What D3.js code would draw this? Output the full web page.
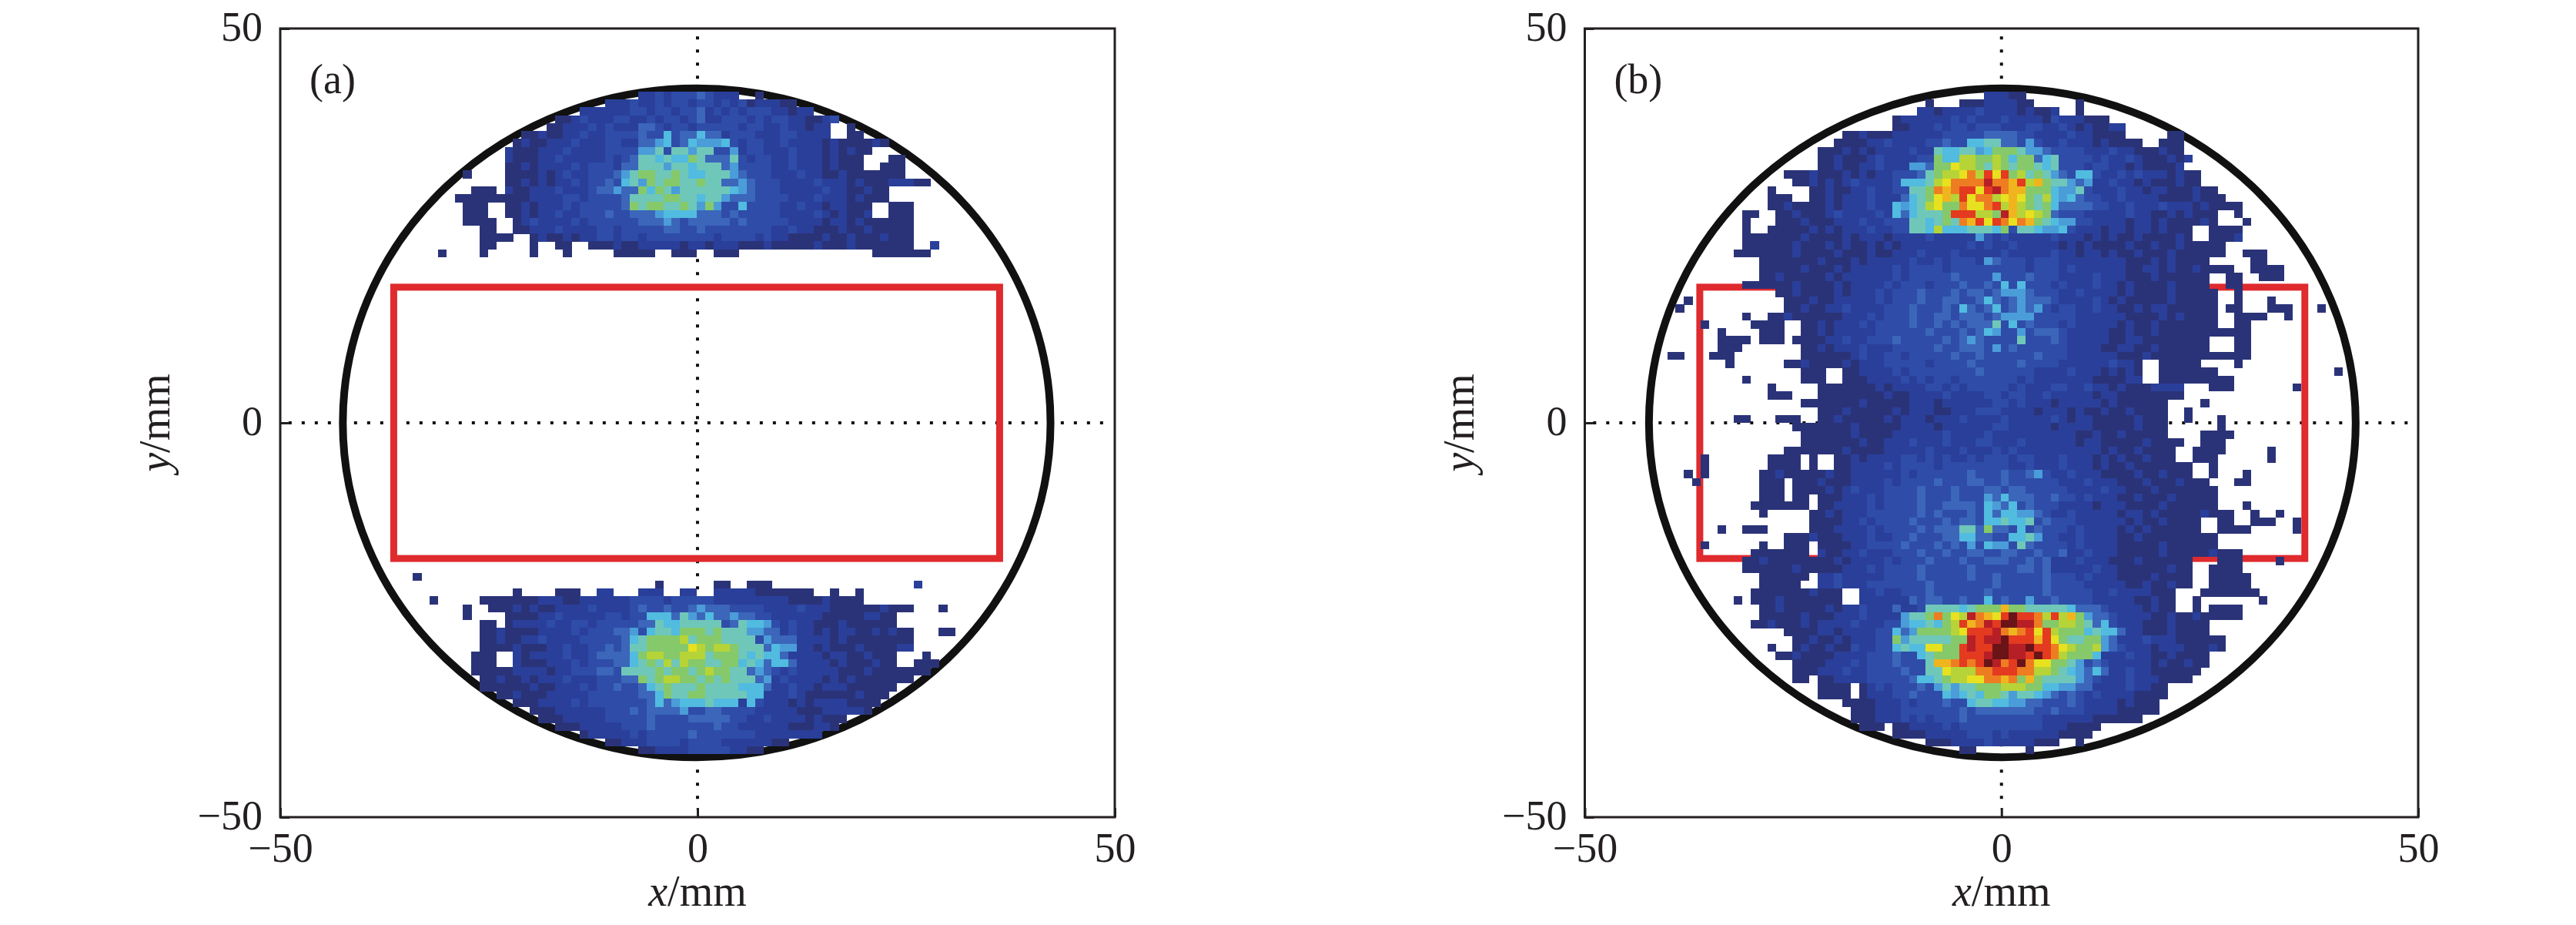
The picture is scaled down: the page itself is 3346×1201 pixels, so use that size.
<!DOCTYPE html>
<html><head><meta charset="utf-8">
<script src="https://d3js.org/d3.v7.min.js"></script>
<style>html,body{margin:0;padding:0;background:#fff}svg{display:block}</style>
</head><body><svg id="c" width="3346" height="1201"></svg>
<script>
// Rows: [top edge of row in mm, first column in mm, level per 1 mm cell]. 1..f = hex level.
const panelABase = [
[42,-7,"22323 33432 22"],[42,7,"1"],
[41,-11,"22232 23233 23323 23122 211"],
[40,-14,"22222 23323 32334 23232 33322 122"],
[39,-17,"11232 22332 23233 23422 33323 23322 1123"],
[38,-18,"11222 32322 23432 33233 33323 32232 2122"],[38,18,"1"],
[37,-21,"11211 22322 33232 23334 44332 33322 23322 22"],[37,18,"11"],
[36,-22,"12112 22322 23322 33433 33332 33233 22322 22121 11121"],
[35,-23,"21112 22322 22332 33322 34333 33323 32223 22212 1211"],
[34,-23,"21112 23222 22323 33433 33333 33332 33223 22212 111"],[34,23,"11"],
[33,-23,"11212 22232 33323 33343 33333 33433 33223 22212 111"],[33,22,"111"],
[32,-28,"1"],[32,-23,"11112 12322 33332 33343 33333 33233 33222 32211 21111 111"],
[31,-23,"11212 12232 33333 34333 33333 33343 33322 22322 21211 12221 1"],
[30,-27,"111"],[30,-23,"21122 23222 33233 33343 33333 33334 33322 22232 21121 1"],
[29,-29,"111111"],[29,-23,"11122 22332 33343 33333 33333 33333 33332 22322 21211 1"],
[28,-28,"111"],[28,-23,"11212 22323 33334 33333 33333 33343 33322 32212 2111"],[28,23,"111"],
[27,-28,"111"],[27,-23,"11212 23223 33433 33333 33333 33333 33322 22321 2112"],[27,23,"111"],
[26,-28,"1111"],[26,-22,"12322 22323 33333 34333 33333 33433 33322 22122 12111 111"],
[25,-26,"11"],[25,-22,"11222 32222 33233 33343 33333 33333 32232 21112 11211 111"],
[24,-26,"1111"],[24,-20,"12112 12233 23323 33333 33233 33232 21111 21121 11211 1"],
[23,-26,"11"],[23,-20,"1"],[23,-17,"11"],[23,-13,"11121 12222 21221 22211 12111 11211 12111 1111"],[23,28,"2"],
[22,-31,"1"],[22,-26,"1"],[22,-20,"1"],[22,-16,"1"],[22,-10,"11111"],[22,-3,"111"],[22,2,"111"],[22,21,"1111111"],
[-19,-34,"1"],
[-20,-5,"1"],[-20,2,"11"],[-20,6,"111"],[-20,26,"2"],
[-21,-22,"1"],[-21,-17,"111"],[-21,-12,"22"],[-21,-7,"222"],[-21,-2,"22"],[-21,2,"22222 11111 11"],[-21,16,"1"],[-21,19,"1"],
[-22,-32,"1"],[-22,-26,"11111 11222 11222 22233 33233 33322 22222 22111 12111 1"],
[-23,-28,"1"],[-23,-25,"11121 21122 22322 22333 33433 33333 33322 22322 21111 11211 1"],[-23,29,"1"],
[-24,-28,"1"],[-24,-23,"11112 23222 22332 33433 33333 33343 33222 22211 11122 11"],
[-25,-26,"11"],[-25,-23,"12222 32233 23333 33433 33333 33332 22323 22111 21111 11"],
[-26,-26,"11211 11222 23233 34333 33333 33433 33332 22322 12122 11212 11"],[-26,29,"11"],
[-27,-26,"11211 22322 22333 33433 33333 33343 33332 22322 22121 11111 11"],
[-28,-26,"11112 11122 32233 43333 33333 33333 33433 23222 12111 21111 22"],
[-29,-27,"111"],[-29,-22,"21222 23223 33334 33333 33333 33343 33222 22122 11211 1"],[-29,27,"1"],
[-30,-27,"111"],[-30,-22,"21112 22323 33334 33333 33333 33333 32322 22212 11121 1"],[-30,26,"111"],
[-31,-27,"11111 22221 22333 44333 33333 33333 33343 32232 22221 11211 11111"],
[-32,-26,"11211 21222 32223 33433 33333 33333 33322 23222 21212 11111 11"],
[-33,-26,"11111 12112 22323 33333 34333 33333 33222 22322 12221 11111"],
[-34,-24,"11211 12222 23333 33433 33333 33343 22222 32111 11121 11"],
[-35,-22,"11122 22323 33333 34333 33333 33322 22212 12222 1111"],
[-36,-20,"11122 22223 33433 33333 33333 33222 22111 22222 1"],
[-37,-19,"11122 22233 33343 33333 33333 22322 22121 11"],
[-38,-17,"11122 22233 34333 33334 33222 22211 1221"],
[-39,-14,"12222 23233 33343 33333 32222 2222"],
[-40,-11,"11222 33332 33332 22222 11"],
[-41,-7,"11222 23333 32211"]
];
const panelAHot = [
[38,-7,"44"],
[37,-10,"33343 36344 644"],
[36,-7,"44563 46555 63"],
[35,-9,"33557 37757 7335"],
[34,-8,"47767 66874 447"],
[33,-9,"44777 57767 7745"],
[32,-10,"45788 77876 67775 4"],
[31,-11,"43675 87887 78774 454"],
[30,-12,"44544 86875 77777 7654"],
[29,-10,"34777 78877 67754 44"],
[28,-10,"34878 87787 58533 6"],
[27,-9,"34445 66664 4434"],
[26,-7,"44454 34444 4"],
[25,-5,"34433 4"],
[-23,-7,"43343 34544 4"],
[-24,-6,"66647 54644 544"],
[-25,-8,"34476 67777 73476 65"],
[-26,-9,"45367 76888 78777 5544"],
[-27,-9,"46788 88978 88777 73544 4"],
[-28,-10,"34778 8888a 98998 77746 55"],
[-29,-12,"44446 89988 99978 88767 664"],
[-30,-10,"44678 79798 87788 67646 64"],
[-31,-9,"77778 78878 98877 4543"],
[-32,-8,"48789 98878 78777 45"],
[-33,-10,"43346 78777 87777 6664"],
[-34,-6,"46877 88777 7766"],
[-35,-6,"46456 66766 6263"],
[-36,-6,"44445 33443 3"],
[-37,-1,"44444"]
];
const panelBBase = [
[42,-2,"22211"],
[41,-9,"1"],[41,-5,"11122 2211"],[41,9,"1"],
[40,-10,"22122 22322 22121 12"],[40,9,"1"],
[39,-13,"12222 22323 22232 22213 22211 1"],
[38,-13,"11222 32332 33322 23322 32121 122"],
[37,-19,"11211 12222 22333 33444 43322 22322 1111"],[37,20,"11"],
[36,-20,"11112 23222 23343 33343 33333 22322 21211 11"],[36,19,"111"],
[35,-22,"11121 21222 23223 33343 33333 33433 33222 32211 1211"],
[34,-22,"11211 12322 22333 33433 33343 33333 33323 22321 11212"],
[33,-22,"11211 22322 23433 33333 33333 33343 33233 22121 1112"],
[32,-26,"11121 11212 12233 33343 33333 33333 33333 33322 32322 21211"],
[31,-25,"11212 12322 22333 33433 33333 33343 33333 32232 21211 1211"],
[30,-28,"1"],[30,-23,"11211 22322 33343 33333 33333 33333 33332 22322 12211 1211"],
[29,-28,"111"],[29,-23,"11212 22322 23333 34333 33333 33333 33433 22322 22111 12111"],
[28,-28,"11211 11212 22322 23333 34333 33333 33333 33343 32232 22322 21211 11"],
[27,-31,"11"],[27,-27,"11211 12322 22323 33333 33433 33333 33333 33222 22322 11212 111"],[27,28,"1"],
[26,-31,"1"],[26,-27,"11121 11222 32233 33433 33333 33333 33343 33322 22122 12111 121"],[26,29,"1"],
[25,-31,"1"],[25,-28,"11111 21212 22322 33233 33333 33333 33333 33222 12212 21211 1"],[25,25,"1111"],
[24,-31,"11111 11211 11212 22122 22322 22223 23222 22322 21212 11211 1121"],[24,25,"1112"],
[23,-31,"11111 12111 21211 21212 22222 22323 22322 22212 12111 12112 11211 111"],
[22,-32,"11111 11211 11211 12112 22322 23222 22322 22232 21221 21121 11211 1111"],[22,29,"111"],
[21,-29,"11111 11211 12122 22232 23233 32323 33233 32222 22221 11212 1111"],[21,30,"11"],
[20,-29,"11111 21112 12222 23233 33233 33333 33233 32322 22221 12212 11211 11"],[20,30,"1111"],
[19,-29,"11211 11121 22222 23233 33343 33333 33433 32222 32221 11211 1111"],[19,27,"11"],[19,31,"111"],
[18,-31,"11111 12111 12122 22323 33233 34334 33343 33232 22322 12111 12111 1"],[18,27,"11"],
[17,-27,"11211 11212 22323 33433 34344 33433 43332 23222 21211 11211 111"],[17,28,"1"],
[16,-38,"1"],[16,-26,"11121 12222 23233 34334 43344 34343 33322 22321 21111 12111 11"],[16,28,"1"],[16,32,"1"],
[15,-39,"1"],[15,-26,"11211 22322 22333 43334 34344 33433 33233 22322 11212 21111 11"],[15,27,"11"],[15,32,"111"],[15,38,"1"],
[14,-31,"1"],[14,-28,"11211 11112 22323 33433 34344 33443 33433 33222 22211 11212 1111"],[14,28,"1111"],[14,34,"1"],
[13,-36,"1"],[13,-30,"1111"],[13,-24,"11212 22323 33343 34343 43334 33433 32322 22212 11211 11111"],[13,28,"11"],
[12,-34,"1"],[12,-29,"111"],[12,-24,"11212 22223 33333 43334 34433 43334 33222 22112 11211 11111 1111"],
[11,-34,"1111"],[11,-29,"111"],[11,-25,"11112 23223 33433 33343 43344 33433 32322 22211 22111 11111"],[11,28,"11"],
[10,-34,"111"],[10,-24,"11212 22322 23333 34334 33343 43333 33222 21122 11211 1111"],[10,28,"11"],
[9,-40,"11"],[9,-35,"111"],[9,-24,"11111 12322 33233 33343 34333 33343 33222 22211 12111 11111 1111"],
[8,-33,"1"],[8,-26,"11211 11212 22333 33233 33433 33343 33322 22223 221"],[8,19,"11111"],[8,28,"1"],
[7,-24,"111"],[7,-19,"11222 23233 33333 34333 33322 22322 212121"],[7,19,"1111111"],[7,40,"1"],
[6,-31,"1"],[6,-24,"111"],[6,-19,"11122 22323 23323 33333 32322 22222 111122"],[6,19,"11111 1111"],
[5,-28,"1"],[5,-22,"11111 11212 22233 23233 33323 22233 22322 12111 2222"],[5,25,"111"],[5,35,"1"],
[4,-28,"111"],[4,-22,"11111 11121 12222 32222 33233 22322 22212 21111 1111"],
[3,-24,"11111 11211 11122 21222 22233 23222 12222 21211 1111"],[3,24,"1"],
[2,-22,"11121 11112 12221 12223 33222 21222 12112 11211 11"],[2,22,"1"],
[1,-32,"11"],[1,-27,"111"],[1,-22,"11211 11121 22212 22322 22322 22232 12211 11121 11"],[1,22,"1"],[1,26,"1"],
[0,-25,"11111 11211 11122 22122 22223 32222 21222 21111 12111"],[0,26,"1"],
[-1,-24,"11111 12111 12222 22322 22322 22222 22211 21121 1111"],[-1,24,"1111"],
[-2,-24,"11111 11211 22232 22322 23322 23222 22212 21111 12111 1"],[-2,24,"111"],
[-3,-26,"11111 11211 11222 22322 23222 32322 22222 22212 11211 11"],[-3,23,"1111"],[-3,32,"1"],
[-4,-36,"1"],[-4,-28,"1111"],[-4,-23,"1"],[-4,-20,"11212 22233 23232 23233 32332 22322 21212 11211 1"],[-4,23,"111"],[-4,32,"1"],
[-5,-36,"1"],[-5,-28,"1111"],[-5,-23,"1"],[-5,-20,"11222 23233 33233 33333 32232 22322 21211 21111 111"],[-5,25,"1"],
[-6,-38,"1"],[-6,-36,"1"],[-6,-29,"11211 11121 12222 22323 33333 43334 33433 22322 21111 21121 11"],[-6,25,"1"],[-6,29,"1"],
[-7,-37,"1"],[-7,-29,"111"],[-7,-25,"11121 11222 23233 33433 34333 43333 33222 32221 11211 12111"],[-7,28,"11"],
[-8,-29,"111"],[-8,-25,"11112 12322 23333 43334 33343 33433 33322 22322 11121 11111 1"],
[-9,-29,"111"],[-9,-25,"11"],[-9,-22,"11122 23233 33433 34333 34334 33343 32322 21121 11211 111"],
[-10,-30,"11111 11"],[-10,-22,"11222 23233 33433 43334 33433 43332 22212 22111 12111 111"],[-10,29,"1"],
[-11,-29,"1"],[-11,-23,"11212 22333 33343 43334 34334 33432 23222 22122 12111 11211 1"],[-11,30,"1"],[-11,33,"1"],
[-12,-23,"11112 23233 33433 34344 34343 43343 33222 22212 11211 11"],[-12,26,"11"],[-12,30,"111"],[-12,35,"1"],
[-13,-34,"1"],[-13,-31,"111"],[-13,-23,"11122 22323 33343 44334 34344 33433 32322 22121 21111 11"],[-13,26,"1111"],[-13,35,"1"],
[-14,-26,"11121 11222 32233 43334 43344 33434 33322 32222 11211 11111 11"],
[-15,-36,"1"],[-15,-29,"1"],[-15,-26,"111"],[-15,-22,"11112 23333 43334 34343 34433 43333 23222 21111 12111 111"],
[-16,-30,"11111 11"],[-16,-22,"21122 32223 33433 43334 33443 33332 22322 21111 12111 11211 1"],
[-17,-31,"11211 11111 12122 22323 33433 34333 43334 33222 32221 11211 1111"],[-17,26,"111"],[-17,33,"1"],
[-18,-31,"11111 12111 11222 32333 34333 33433 33343 33222 22322 11111 1211"],[-18,25,"1111"],
[-19,-29,"11111 1"],[-19,-22,"22322 22233 33433 33343 34333 33333 32322 21111 21111"],[-19,25,"11111"],
[-20,-29,"11111"],[-20,-22,"22322 23333 33343 33333 34333 33433 33222 22112 11211"],[-20,25,"11111"],
[-21,-30,"11111 11211 1"],[-21,-17,"22322 33343 33333 43333 33433 33322 32222 111"],[-21,24,"11111 11"],
[-22,-32,"1"],[-22,-30,"11121 11111 1"],[-22,-17,"22222 23343 33333 33433 33343 33322 22211 211"],[-22,23,"1"],[-22,31,"1"],
[-23,-29,"11211 11121 22322 22223 43333 33333 33333 33333 33222 21211"],[-23,23,"1"],[-23,25,"1111"],
[-24,-29,"11111 21112 22322 22433 33333 33333 33333 33343 33322 22112 11211 111"],
[-25,-30,"11211 12122 22322 23343 33333 33333 33333 33343 32232 22111 21111"],
[-26,-26,"11112 21222 23343 33333 33333 33333 33333 33433 22211 12111 1"],
[-27,-25,"11211 21222 33443 33333 33333 33333 33333 33432 22322 21111 11"],
[-28,-28,"1"],[-28,-25,"12112 11322 33433 33333 33333 33333 33333 33433 22212 22111 21"],
[-29,-27,"11211 11222 23334 33333 33333 33333 33333 33432 22322 11211 11"],
[-30,-25,"11112 22323 33433 33333 33333 33333 33333 34322 22212 11211"],
[-31,-25,"11122 23223 33343 33333 33333 33333 33333 33422 32211 1111"],
[-32,-25,"11"],[-32,-22,"11222 23333 34333 33333 33333 33333 33432 22322 21111"],
[-33,-22,"1111"],[-33,-17,"12323 33433 33333 33333 33333 34322 22322 11"],
[-34,-22,"1111"],[-34,-17,"12223 34333 33333 33333 33333 33232 22211 11"],
[-35,-19,"11112 22323 33433 33333 33333 33432 22212 111"],
[-36,-18,"11122 23333 33343 33333 33334 33322 22111 11"],
[-37,-18,"11122 23232 33343 33333 33322 22221 11111"],
[-38,-17,"111"],[-38,-13,"11222 23233 33333 33322 21111"],
[-39,-13,"11112 22223 33232 22222 1111"],
[-40,-9,"11122 22322 22211 1"],[-40,9,"1"],
[-41,-5,"11"],[-41,3,"1"]
];
const panelBHot = [
[36,-4,"66774 4"],[36,3,"5"],
[35,-8,"76677 56888 755"],
[34,-8,"86699 88986 88467"],
[33,-11,"55488 a9987 98788 767"],
[32,-10,"47899 ac9da d8978 75436 6"],
[31,-12,"66679 acccc eccbd 9b877 545"],
[30,-11,"778cb cddad ecbb8 88655 7"],
[29,-12,"4678a b9dac c9aba 87965 64"],
[28,-13,"65679 a88ca acd9b 98786 444"],
[27,-13,"64677 78ddd 998eb 9a984"],
[26,-11,"77678 7cbda dcacb 87655"],
[25,-11,"77696 66777 68377 6556"],
[24,-3,"5"],[21,-2,"54"],[19,-1,"5"],[18,0,"6"],[18,2,"6"],[17,-1,"4555"],
[16,-2,"64345 444"],
[15,-5,"64346 34545"],
[14,-8,"4"],[14,-5,"44434 55553"],
[13,-4,"44473 63"],
[12,-3,"46533 534"],[12,6,"4"],
[11,-4,"54333 37"],[11,6,"4"],
[10,-4,"44"],[10,-1,"5"],
[-6,4,"5"],[-7,-4,"44"],[-8,-2,"44"],[-8,1,"44"],
[-9,-2,"54644 4"],
[-10,-6,"44436 5463"],
[-11,-2,"64665 5"],
[-12,-2,"66766 7"],
[-13,-6,"47748 4436"],
[-14,-5,"66443 36675"],
[-15,-4,"53655 37"],
[-16,-4,"4"],[-16,1,"4"],[-16,4,"4"],[-16,7,"4"],
[-17,-2,"444"],[-17,5,"4"],[-18,3,"4"],[-18,5,"4"],[-19,5,"4"],
[-22,-11,"4"],[-22,-8,"4"],[-22,-5,"4"],[-22,-2,"6"],[-22,3,"5"],
[-23,-13,"4"],[-23,-9,"77776 7888b 88777 77644 4"],
[-24,-12,"5778c 8a9ec badfd dc9d9 b8544"],
[-25,-12,"56676 89dbc edffe ec889 98746"],
[-26,-13,"64588 889ad ddecb cdad9 88867 664"],
[-27,-13,"85777 7788e deefd ddbda 87788 54"],
[-28,-13,"6766a a88de ddffe efddc a9889 54"],
[-29,-10,"67888 dddef feedf dc988 86"],
[-30,-9,"7bbcd cdfec dfcaa 8875"],
[-31,-9,"77a99 9ccdd dcc99 87654 6"],
[-32,-10,"66789 9aacc bc8b8 77775 4"],
[-33,-8,"57577 88899 98866 5544"],
[-34,-7,"65676 88757 76543 4"],
[-35,-4,"67766 55443"],
[-36,-3,"44444 44"]
];
const levelDomain = [1,2,3,4,5,6,7,8,9,10,11,12,13,14,15];
const levelColors = ["#2b3378","#2a3f9a","#2e4ca8","#3b66ba","#4a9dd8","#51bbe0","#6fc7b9","#85c96a","#b6d437","#e7e11f","#f0b51e","#ee7d22","#e33a20","#b71f26","#6a1418"];
const xTicks = [-50,0,50], yTicks = [-50,0,50];
const tubeRadius = 42.4;
const slotHalfWidth = 36.3, slotHalfHeight = 17.2;
const panelLabels = ["(a)","(b)"];

const svg = d3.select("#c");
const FONT = "'Liberation Serif','Times New Roman',serif";
const INK = "#231f20";
const color = d3.scaleLinear().domain(levelDomain).range(levelColors);
const y = d3.scaleLinear().domain([-50,50]).range([1061,37]);
const cellOffset = -0.1;

function cellsOf(base, hot){
  const m = new Map();
  for (const list of [base, hot]) for (const [r,s,str] of list){
    str.replace(/ /g,"").split("").forEach((ch,i)=>{ m.set((s+i)+","+r, {c:s+i, r, v:parseInt(ch,16)}); });
  }
  return Array.from(m.values());
}

function panel(range, base, hot, label, yTitleX, shift){
  const x = d3.scaleLinear().domain([-50,50]).range(range);
  const g = svg.append("g");
  g.append("rect").attr("x",x(-50)).attr("y",y(50)).attr("width",x(50)-x(-50)).attr("height",y(-50)-y(50))
    .attr("fill","#fff").attr("stroke",INK).attr("stroke-width",3);

  const dots = {stroke:"#111","stroke-width":4,"stroke-dasharray":"4 13"};
  const h = g.append("line").attr("x1",x(-49)).attr("x2",x(49)).attr("y1",y(0)).attr("y2",y(0));
  const v = g.append("line").attr("x1",x(0)).attr("x2",x(0)).attr("y1",y(49)).attr("y2",y(-49));
  for (const l of [h,v]) for (const k in dots) l.attr(k,dots[k]);

  g.append("ellipse").attr("cx",x(shift)).attr("cy",y(0))
    .attr("rx",x(tubeRadius)-x(0)).attr("ry",y(0)-y(tubeRadius))
    .attr("fill","none").attr("stroke","#111").attr("stroke-width",10);

  g.append("rect").attr("x",x(shift-slotHalfWidth)).attr("y",y(slotHalfHeight))
    .attr("width",x(slotHalfWidth)-x(-slotHalfWidth)).attr("height",y(-slotHalfHeight)-y(slotHalfHeight))
    .attr("fill","none").attr("stroke","#df2a2e").attr("stroke-width",9);

  g.append("g").selectAll("rect").data(cellsOf(base,hot)).join("rect")
    .attr("x",d=>x(d.c+cellOffset)).attr("y",d=>y(d.r))
    .attr("width",x(1)-x(0)+0.4).attr("height",y(0)-y(1)+0.4)
    .attr("fill",d=>color(d.v)).attr("shape-rendering","crispEdges");

  const ax = g.append("g").attr("transform",`translate(0,${y(-50)})`)
    .call(d3.axisBottom(x).tickValues(xTicks).tickSize(-12).tickPadding(20));
  const ay = g.append("g").attr("transform",`translate(${x(-50)},0)`)
    .call(d3.axisLeft(y).tickValues(yTicks).tickSize(-12).tickPadding(23));
  for (const a of [ax,ay]){
    a.select(".domain").remove();
    a.selectAll("line").attr("stroke",INK).attr("stroke-width",3);
    a.selectAll("text").attr("font-family",FONT).attr("font-size",54).attr("fill",INK);
  }
  ay.selectAll("text").attr("dy",15);

  g.append("text").attr("x",x(0)).attr("y",1176).attr("text-anchor","middle")
    .attr("font-family",FONT).attr("font-size",56).attr("fill",INK)
    .html('<tspan font-style="italic">x</tspan>/mm');
  g.append("text").attr("transform",`translate(${yTitleX},${y(0)}) rotate(-90)`).attr("text-anchor","middle")
    .attr("font-family",FONT).attr("font-size",56).attr("fill",INK)
    .html('<tspan font-style="italic">y</tspan>/mm');
  g.append("text").attr("x",x(-46.5)).attr("y",y(41.8))
    .attr("font-family",FONT).attr("font-size",54).attr("fill",INK).text(label);
}
panel([364,1448], panelABase, panelAHot, panelLabels[0], 220, -0.1);
panel([2058.5,3141], panelBBase, panelBHot, panelLabels[1], 1914, 0.1);
</script></body></html>
